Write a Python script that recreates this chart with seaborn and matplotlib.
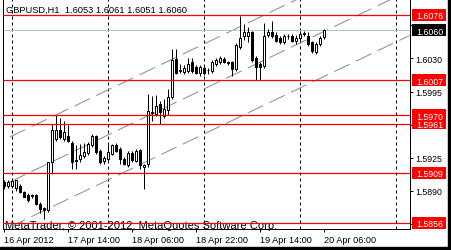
import numpy as np
import pandas as pd
import matplotlib
matplotlib.use("Agg")
import matplotlib.pyplot as plt
import matplotlib.transforms as mtransforms
from matplotlib.patches import Rectangle
import seaborn as sns

sns.set_theme(style="white")
plt.rcParams['font.family'] = ['Liberation Sans', 'DejaVu Sans']
plt.rcParams['lines.scale_dashes'] = False

# ---------------- data ----------------
title_text = "GBPUSD,H1  1.6053 1.6061 1.6051 1.6060"
copyright_text = "MetaTrader, \u00a9 2001-2012, MetaQuotes Software Corp."

opens = [
    1.5899, 1.5895, 1.5895, 1.5893, 1.5895, 1.5889, 1.5886, 1.5885, 1.5886, 1.5876,
    1.5872, 1.5870, 1.5920, 1.5945, 1.5954, 1.5945, 1.5948, 1.5941, 1.5923, 1.5924,
    1.5927, 1.5930, 1.5938, 1.5948, 1.5932, 1.5922, 1.5924, 1.5929, 1.5939, 1.5934,
    1.5924, 1.5917, 1.5930, 1.5922, 1.5933, 1.5915, 1.5918, 1.5972, 1.5971, 1.5982,
    1.5969, 1.5975, 1.5989, 1.6029, 1.6018, 1.6016, 1.6017, 1.6026, 1.6021, 1.6015,
    1.6020, 1.6018, 1.6017, 1.6024, 1.6026, 1.6029, 1.6026, 1.6026, 1.6019, 1.6042,
    1.6054, 1.6054, 1.6058, 1.6030, 1.6024, 1.6022, 1.6055, 1.6058, 1.6055, 1.6052,
    1.6047, 1.6054, 1.6054, 1.6049, 1.6052, 1.6056, 1.6054, 1.6047, 1.6037, 1.6045,
    1.6053]
highs = [
    1.5901, 1.5901, 1.5901, 1.5902, 1.5897, 1.5890, 1.5888, 1.5887, 1.5887, 1.5878,
    1.5873, 1.5921, 1.5961, 1.5970, 1.5967, 1.5964, 1.5960, 1.5943, 1.5938, 1.5940,
    1.5941, 1.5942, 1.5950, 1.5949, 1.5934, 1.5927, 1.5939, 1.5940, 1.5941, 1.5936,
    1.5926, 1.5932, 1.5932, 1.5934, 1.5934, 1.5918, 1.5992, 1.5990, 1.5991, 1.5985,
    1.5987, 1.5998, 1.6040, 1.6040, 1.6024, 1.6023, 1.6031, 1.6031, 1.6023, 1.6023,
    1.6022, 1.6020, 1.6028, 1.6030, 1.6033, 1.6032, 1.6027, 1.6027, 1.6046, 1.6075,
    1.6066, 1.6063, 1.6059, 1.6033, 1.6026, 1.6068, 1.6061, 1.6070, 1.6058, 1.6054,
    1.6056, 1.6056, 1.6056, 1.6055, 1.6059, 1.6059, 1.6058, 1.6048, 1.6047, 1.6054,
    1.6061]
lows = [
    1.5892, 1.5893, 1.5893, 1.5890, 1.5888, 1.5883, 1.5878, 1.5882, 1.5875, 1.5867,
    1.5860, 1.5868, 1.5908, 1.5943, 1.5945, 1.5943, 1.5942, 1.5913, 1.5913, 1.5920,
    1.5925, 1.5928, 1.5936, 1.5929, 1.5918, 1.5918, 1.5922, 1.5928, 1.5931, 1.5918,
    1.5917, 1.5915, 1.5921, 1.5920, 1.5913, 1.5892, 1.5915, 1.5964, 1.5969, 1.5961,
    1.5967, 1.5970, 1.5987, 1.6014, 1.6015, 1.6014, 1.6015, 1.6015, 1.6014, 1.6012,
    1.6013, 1.6014, 1.6015, 1.6022, 1.6024, 1.6025, 1.6023, 1.6012, 1.6017, 1.6040,
    1.6050, 1.6047, 1.6026, 1.6007, 1.6007, 1.6020, 1.6053, 1.6052, 1.6047, 1.6045,
    1.6045, 1.6051, 1.6047, 1.6045, 1.6050, 1.6054, 1.6043, 1.6036, 1.6035, 1.6043,
    1.6051]
closes = [
    1.5895, 1.5899, 1.5900, 1.5901, 1.5889, 1.5884, 1.5880, 1.5886, 1.5876, 1.5871,
    1.5870, 1.5920, 1.5954, 1.5954, 1.5947, 1.5952, 1.5943, 1.5920, 1.5922, 1.5928,
    1.5931, 1.5940, 1.5948, 1.5931, 1.5920, 1.5925, 1.5931, 1.5938, 1.5932, 1.5924,
    1.5918, 1.5930, 1.5923, 1.5932, 1.5917, 1.5917, 1.5974, 1.5973, 1.5980, 1.5973,
    1.5977, 1.5989, 1.6028, 1.6015, 1.6017, 1.6020, 1.6024, 1.6017, 1.6015, 1.6021,
    1.6015, 1.6018, 1.6026, 1.6028, 1.6031, 1.6026, 1.6025, 1.6019, 1.6044, 1.6052,
    1.6058, 1.6058, 1.6028, 1.6021, 1.6021, 1.6054, 1.6058, 1.6054, 1.6049, 1.6047,
    1.6054, 1.6054, 1.6049, 1.6052, 1.6056, 1.6057, 1.6045, 1.6038, 1.6045, 1.6052,
    1.6060]

x_tick_bars = [0, 16, 32, 48, 64, 80]
x_tick_labels = ["16 Apr 2012", "17 Apr 14:00", "18 Apr 06:00",
                 "18 Apr 22:00", "19 Apr 14:00", "20 Apr 06:00"]
day_separator_bars = [2, 26, 50, 74, 98]
y_ticks = [1.6065, 1.6030, 1.5995, 1.5960, 1.5925, 1.5890, 1.5855]
red_levels = [1.6076, 1.6007, 1.5970, 1.5961, 1.5909, 1.5856]
bid_price = 1.6060
channel_bars = [1.5, 101.45]
channel_mid = [1.58993, 1.61019]
channel_offsets = [0.00476, 0.0, -0.00476]

# ---------------- figure ----------------
W, H = 451, 251
PX = 0.72  # points per pixel at dpi 100
fig = plt.figure(figsize=(W / 100, H / 100), dpi=100, facecolor='white')
ax = fig.add_axes([2.5 / W, (H - 230) / H, 407 / W, 230 / H])
ax.set_facecolor('white')
ax.set_xlim(-0.3, 101.45)
ax.set_ylim(1.584965, 1.609292)

# outer black strips of the window
fig.patches.append(Rectangle((0, 0), 1, 3 / H, transform=fig.transFigure,
                             color='black', zorder=0))
fig.patches.append(Rectangle((448 / W, 0), 3 / W, 1, transform=fig.transFigure,
                             color='black', zorder=0))

# copyright text (background)
ax.text(2.5 / 407, 0.004, copyright_text, transform=ax.transAxes, fontsize=8.0,
        color='black', ha='left', va='baseline', zorder=1)

# day separators
for b in day_separator_bars:
    ax.axvline(b, color='black', lw=PX, ls=(0, (3 * PX, 3 * PX)), zorder=1)

# channel lines
for off in channel_offsets:
    sns.lineplot(x=channel_bars, y=[m + off for m in channel_mid], ax=ax,
                 color='#8c8c8c', lw=PX, linestyle=(0, (17 * PX, 7 * PX)),
                 zorder=2, legend=False)

# bid line
ax.axhline(bid_price, color='#c0c0c0', lw=PX, zorder=2)

# candles
df = pd.DataFrame(dict(bar=np.arange(len(opens)), open=opens, high=highs,
                       low=lows, close=closes))
df['bottom'] = df[['open', 'close']].min(axis=1)
df['height'] = (df['close'] - df['open']).abs()
up = df['close'] >= df['open']
ax.vlines(df['bar'], df['low'], df['high'], color='black', lw=PX, zorder=3)
ax.bar(df['bar'][up], df['height'][up], bottom=df['bottom'][up], width=0.5,
       color='white', edgecolor='black', linewidth=PX, zorder=4)
ax.bar(df['bar'][~up], df['height'][~up], bottom=df['bottom'][~up], width=0.5,
       color='black', edgecolor='black', linewidth=PX, zorder=4)

# red levels
for lv in red_levels:
    ax.axhline(lv, color='#ff0000', lw=0.9, zorder=5)

# title text
ax.text(3.5 / 407, 1 - 10 / 230, title_text, transform=ax.transAxes,
        fontsize=6.7, color='black', ha='left', va='center', zorder=6)

# spines
for side in ['left', 'bottom', 'right']:
    ax.spines[side].set_visible(True)
    ax.spines[side].set_color('black')
    ax.spines[side].set_linewidth(PX)
ax.spines['top'].set_visible(False)

# ticks
ax.set_xticks(x_tick_bars)
ax.set_xticklabels(x_tick_labels)
for lab in ax.get_xticklabels():
    lab.set_ha('left')
ax.tick_params(axis='x', bottom=True, top=False, direction='out', length=3 * PX,
               width=PX, pad=2.2, labelsize=6.6, colors='black')
ax.set_yticks(y_ticks)
ax.set_yticklabels([f"{v:.4f}" for v in y_ticks])
ax.tick_params(axis='y', left=False, right=True, labelleft=False, labelright=True,
               direction='out', length=3 * PX, width=PX, pad=3 * PX,
               labelsize=6.3, colors='black')
ax.grid(False)

# price label boxes on the right
trans = mtransforms.blended_transform_factory(ax.transAxes, ax.transData)
box_x0 = (412 - 2.5) / 407
box_w = 34 / 407
box_h = 11.5 / 9454.5
for lv, fc in [(v, '#ff0000') for v in red_levels] + [(bid_price, 'black')]:
    ax.add_patch(Rectangle((box_x0, lv - box_h / 2), box_w, box_h, transform=trans,
                           facecolor=fc, edgecolor='none', clip_on=False, zorder=10))
    ax.text((416 - 2.5) / 407, lv, f"{lv:.4f}", transform=trans, fontsize=6.3,
            color='white', ha='left', va='center_baseline', clip_on=False, zorder=11)

fig.savefig("out.png", dpi=100, facecolor='white')
